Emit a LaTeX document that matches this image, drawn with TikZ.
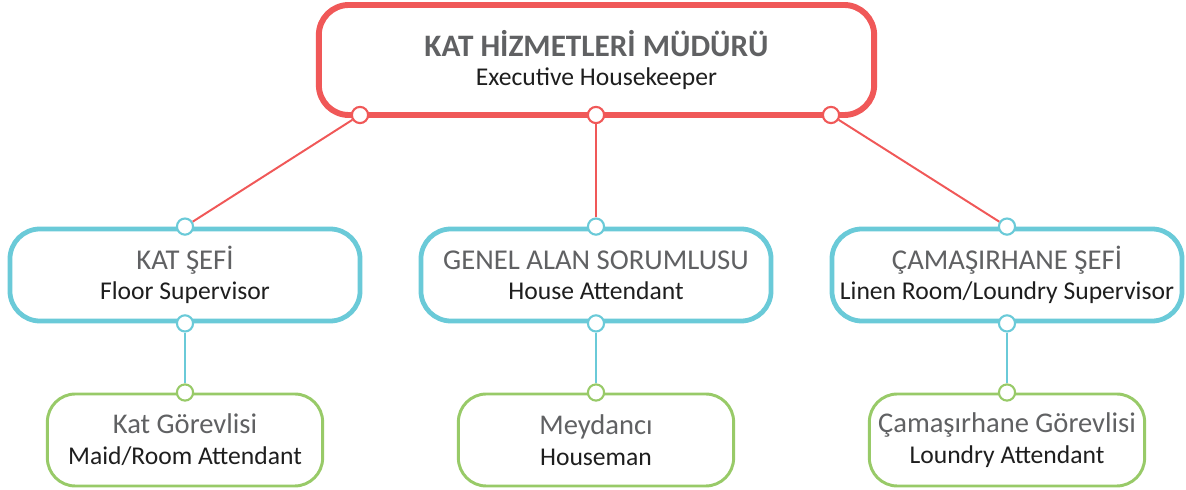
\documentclass[tikz,border=0pt]{standalone}
\usepackage{fontspec}
\setmainfont{Carlito}
\usetikzlibrary{positioning,calc}
\definecolor{bossred}{RGB}{240,88,88}
\definecolor{chiefblue}{RGB}{106,202,216}
\definecolor{staffgreen}{RGB}{152,202,104}
\definecolor{titlegray}{RGB}{96,97,99}
\definecolor{subblack}{RGB}{30,30,30}

\tikzset{
    box/.style={draw,rounded corners=#1,align=center,inner sep=0pt,fill=white,text=subblack},
    dot/.style={circle,draw=#1,fill=white,line width=1.5pt,minimum size=11.5pt,inner sep=0pt},
    link/.style={line width=1.4pt}
}

\begin{document}
\begin{tikzpicture}[x=0.025cm,y=-0.025cm]
    \useasboundingbox (0,0) rectangle (1186,490);

    % Müdür
    \node[box=0.75cm,draw=bossred,line width=4.2pt,minimum width=13.88cm,minimum height=2.75cm,
          font=\fontsize{18.2}{20}\selectfont]
        (boss) at (596.5,60) {{\fontsize{22.2}{20}\selectfont\bfseries\color{titlegray}KAT HİZMETLERİ MÜDÜRÜ}\\
        Executive Housekeeper};

    % Şefler
    \foreach \n/\x/\ta/\tb in {floor/185/KAT ŞEFİ/Floor Supervisor,
                               house/596/GENEL ALAN SORUMLUSU/House Attendant,
                               linen/1007/ÇAMAŞIRHANE ŞEFİ/{Linen Room/Loundry Supervisor}}
        \node[box=0.75cm,draw=chiefblue,line width=3.4pt,minimum width=8.75cm,minimum height=2.3cm,
              font=\fontsize{18.2}{21.3}\selectfont]
            (\n) at (\x,275) {{\fontsize{20.4}{21.3}\selectfont\color{titlegray}\ta}\\ \tb};

    % Görevliler
    \foreach \n/\x/\ta/\tb in {maid/185/Kat Görevlisi/{Maid/Room Attendant},
                               man/596/Meydancı/Houseman,
                               laundry/1007/Çamaşırhane Görevlisi/Loundry Attendant}
        \node[box=0.7cm,draw=staffgreen,line width=2.1pt,minimum width=6.88cm,minimum height=2.3cm,
              font=\fontsize{18.2}{22}\selectfont]
            (\n) at (\x,440) {{\fontsize{20.3}{22}\selectfont\color{titlegray}\ta}\\ \tb};

    % Bağlantı noktaları
    \node[dot=bossred] (b1) at (360,115) {};
    \node[dot=bossred] (b2) at (596,115) {};
    \node[dot=bossred] (b3) at (831,115) {};
    \foreach \n in {floor,house,linen} {
        \node[dot=chiefblue] (\n-top) at (\n.north) {};
        \node[dot=chiefblue] (\n-bot) at (\n.south) {};
    }
    \foreach \n in {maid,man,laundry}
        \node[dot=staffgreen] (\n-top) at (\n.north) {};

    % Çizgiler
    \draw[link,bossred] (b1) -- (floor-top);
    \draw[link,bossred] (b2) -- (house-top);
    \draw[link,bossred] (b3) -- (linen-top);
    \draw[link,chiefblue] (floor-bot) -- (maid-top);
    \draw[link,chiefblue] (house-bot) -- (man-top);
    \draw[link,chiefblue] (linen-bot) -- (laundry-top);
\end{tikzpicture}
\end{document}
